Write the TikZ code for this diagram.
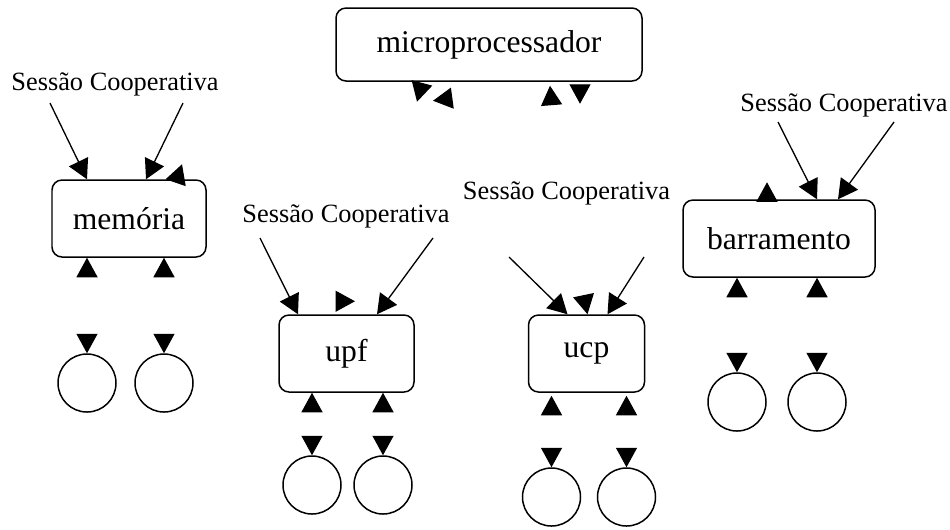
\documentclass[tikz,border=0pt]{standalone}
\usepackage{fontspec}
\setmainfont{Liberation Serif}
\usetikzlibrary{arrows.meta}

\begin{document}
\begin{tikzpicture}[
    box/.style={draw, rounded corners=0.2cm, line width=0.85pt, minimum height=1.54cm,
      font=\fontsize{18}{20}\selectfont},
    sess/.style={font=\fontsize{15}{17}\selectfont, inner sep=0pt},
    pool/.style={draw, circle, line width=0.85pt, minimum size=1.16cm, inner sep=0pt},
    head/.style={-{Triangle[length=0.39cm,width=0.42cm]}, line width=0.75pt}]
  \useasboundingbox (0,0) rectangle (19,-10.58);

  \node[box, minimum width=6.12cm, minimum height=1.46cm] (mp) at (9.78,-0.89) {microprocessador};
  \node[box, minimum width=3.08cm] (mem) at (2.58,-4.37) {memória};
  \node[box, minimum width=2.70cm] (upf) at (6.93,-7.07) {upf};
  \node[box, minimum width=2.32cm] (ucp) at (11.73,-7.07) {ucp};
  \node[box, minimum width=3.84cm] (bar) at (15.58,-4.77) {barramento};

  \node[sess] (sm) at (2.30,-1.68) {Sessão Cooperativa};
  \node[sess] (su) at (6.92,-4.32) {Sessão Cooperativa};
  \node[sess] (sc) at (11.33,-3.86) {Sessão Cooperativa};
  \node[sess] (sb) at (16.88,-2.10) {Sessão Cooperativa};

  \coordinate (sm1) at (1.00,-2.06); \coordinate (sm2) at (3.66,-2.06);
  \coordinate (su1) at (5.20,-4.76); \coordinate (su2) at (8.66,-4.76);
  \coordinate (sc1) at (10.18,-5.14); \coordinate (sc2) at (12.88,-5.14);
  \coordinate (sb1) at (15.56,-2.44); \coordinate (sb2) at (17.88,-2.44);

  \draw[head] (sm1) -- ([xshift=-0.84cm]mem.north);
  \draw[head] (sm2) -- ([xshift=0.34cm]mem.north);
  \draw[head] (su1) -- ([xshift=-0.97cm]upf.north);
  \draw[head] (su2) -- ([xshift=0.61cm]upf.north);
  \draw[head] (sc1) -- ([xshift=-0.38cm]ucp.north);
  \draw[head] (sc2) -- ([xshift=0.42cm]ucp.north);
  \draw[head] (sb1) -- ([xshift=0.76cm]bar.north);
  \draw[head] (sb2) -- ([xshift=1.18cm]bar.north);

  \draw[head] ([shift={(-1.345,-0.04)}]mp.south) -- ([shift={(-1.44,-0.40)}]mp.south);
  \draw[head] ([shift={(-0.75,-0.33)}]mp.south) -- ([shift={(-1.12,-0.38)}]mp.south);
  \draw[head] ([shift={(1.25,-0.45)}]mp.south) -- ([shift={(1.22,-0.08)}]mp.south);
  \draw[head] ([shift={(1.82,-0.07)}]mp.south) -- ([shift={(1.82,-0.44)}]mp.south);

  \draw[head] ([shift={(0.94,-0.05)}]mem.north) -- ([shift={(1.06,0.30)}]mem.north);
  \draw[head] ([shift={(-0.20,0.26)}]upf.north) -- ([shift={(0.17,0.26)}]upf.north);
  \draw[head] ([shift={(-0.055,0.36)}]ucp.north) -- ([shift={(0.02,0)}]ucp.north);
  \draw[head] ([shift={(-0.24,-0.03)}]bar.north) -- ([shift={(-0.24,0.34)}]bar.north);

  \draw[head] ([shift={(-0.84,-0.37)}]mem.south) -- ([xshift=-0.84cm]mem.south);
  \draw[head] ([shift={(0.70,-0.37)}]mem.south) -- ([xshift=0.70cm]mem.south);
  \draw[head] ([shift={(-0.69,-0.37)}]upf.south) -- ([xshift=-0.69cm]upf.south);
  \draw[head] ([shift={(0.73,-0.37)}]upf.south) -- ([xshift=0.73cm]upf.south);
  \draw[head] ([shift={(-0.70,-0.43)}]ucp.south) -- ([shift={(-0.70,-0.06)}]ucp.south);
  \draw[head] ([shift={(0.80,-0.43)}]ucp.south) -- ([shift={(0.80,-0.06)}]ucp.south);
  \draw[head] ([shift={(-0.84,-0.37)}]bar.south) -- ([xshift=-0.84cm]bar.south);
  \draw[head] ([shift={(0.76,-0.37)}]bar.south) -- ([xshift=0.76cm]bar.south);

  \foreach \c/\x/\y in {m1/1.74/-7.66, m2/3.28/-7.66, u1/6.24/-9.70, u2/7.66/-9.70,
      c1/11.03/-9.94, c2/12.53/-9.94, b1/14.74/-8.04, b2/16.34/-8.04} {
    \node[pool] (\c) at (\x,\y) {};
    \draw[head] ([yshift=0.37cm]\c.north) -- (\c.north);
  }
\end{tikzpicture}
\end{document}
